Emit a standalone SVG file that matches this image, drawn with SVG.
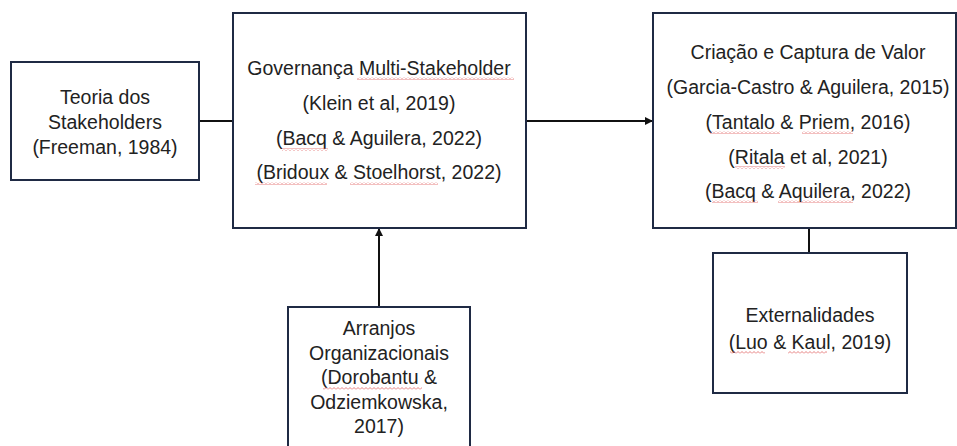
<svg xmlns="http://www.w3.org/2000/svg" width="957" height="446" viewBox="0 0 957 446">
<defs>
<style>
.box{fill:#fff;stroke:#1f2a44;stroke-width:2}
.t{font-family:"Liberation Sans",Arial,sans-serif;font-size:19.5px;fill:#222;text-anchor:middle}
.c{stroke:#111;stroke-width:2;fill:none}
.sp{fill:url(#wave)}
</style>
<pattern id="wave" patternUnits="userSpaceOnUse" width="4" height="3">
<path d="M0,2.5 L2,0.5 L4,2.5" stroke="#e06060" stroke-width="0.8" fill="none"/>
</pattern>
<marker id="ah" markerWidth="8" markerHeight="8" refX="7" refY="4" orient="auto" markerUnits="userSpaceOnUse">
<path d="M0,0 L8,4 L0,8 z" fill="#111"/>
</marker>
</defs>
<rect width="957" height="446" fill="#fff"/>
<g id="connectors">
<line class="c" x1="199" y1="121" x2="233" y2="121"/>
<line class="c" x1="526" y1="121" x2="652" y2="121" marker-end="url(#ah)"/>
<line class="c" x1="379" y1="307" x2="379" y2="229" marker-end="url(#ah)"/>
<line class="c" x1="809" y1="228" x2="809" y2="253"/>
</g>
<g id="teoria">
<rect class="box" x="11" y="62" width="188" height="118"/>
<text class="t" x="105" y="104">Teoria dos</text>
<text class="t" x="105" y="129">Stakeholders</text>
<text class="t" x="105" y="154">(Freeman, 1984)</text>
</g>
<g id="governanca">
<rect class="box" x="233" y="13" width="293" height="215"/>
<text class="t" x="379" y="75">Governança Multi-Stakeholder</text>
<text class="t" x="379" y="110">(Klein et al, 2019)</text>
<text class="t" x="379" y="145">(Bacq &amp; Aguilera, 2022)</text>
<text class="t" x="379" y="179">(Bridoux &amp; Stoelhorst, 2022)</text>
<rect class="sp" x="357" y="77" width="157" height="3"/>
<rect class="sp" x="282" y="148" width="46" height="3"/>
<rect class="sp" x="255" y="182" width="72" height="3"/>
<rect class="sp" x="350" y="182" width="88" height="3"/>
</g>
<g id="criacao">
<rect class="box" x="653" y="13" width="303" height="215"/>
<text class="t" x="808" y="59">Criação e Captura de Valor</text>
<text class="t" x="808" y="94">(Garcia-Castro &amp; Aguilera, 2015)</text>
<text class="t" x="808" y="129">(Tantalo &amp; Priem, 2016)</text>
<text class="t" x="808" y="164">(Ritala et al, 2021)</text>
<text class="t" x="808" y="198">(Bacq &amp; Aquilera, 2022)</text>
<rect class="sp" x="710" y="131" width="70" height="3"/>
<rect class="sp" x="802" y="131" width="51" height="3"/>
<rect class="sp" x="735" y="166" width="50" height="3"/>
<rect class="sp" x="712" y="200" width="46" height="3"/>
<rect class="sp" x="778" y="200" width="75" height="3"/>
</g>
<g id="arranjos">
<rect class="box" x="288" y="307" width="182" height="150"/>
<text class="t" x="379" y="335">Arranjos</text>
<text class="t" x="379" y="360">Organizacionais</text>
<text class="t" x="379" y="384">(Dorobantu &amp;</text>
<text class="t" x="379" y="409">Odziemkowska,</text>
<text class="t" x="379" y="433">2017)</text>
<rect class="sp" x="323" y="387" width="99" height="3"/>
</g>
<g id="externalidades">
<rect class="box" x="713" y="253" width="194" height="140"/>
<text class="t" x="810" y="322">Externalidades</text>
<text class="t" x="810" y="349">(Luo &amp; Kaul, 2019)</text>
<rect class="sp" x="730" y="351" width="35" height="3"/>
<rect class="sp" x="788" y="351" width="39" height="3"/>
</g>
</svg>
